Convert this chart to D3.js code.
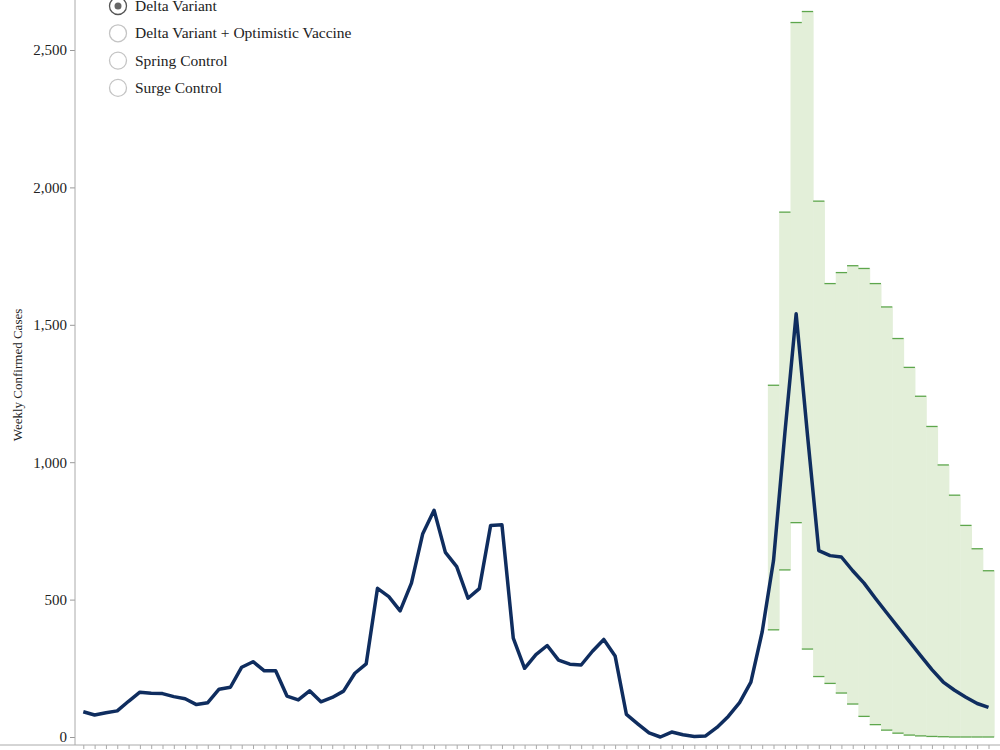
<!DOCTYPE html>
<html><head><meta charset="utf-8">
<script src="https://cdn.jsdelivr.net/npm/d3@7"></script>
<style>body{margin:0;background:#fff}svg{display:block}text{font-family:"Liberation Serif","DejaVu Serif",serif}</style>
</head><body><svg id="c" width="1000" height="750"></svg>
<script>
const weeklyCases = [92,80,88,95,130,163,159,158,147,139,118,125,174,181,254,274,241,241,149,135,168,128,144,167,232,266,541,511,459,560,740,825,672,620,505,540,770,772,360,250,300,333,280,265,262,312,355,295,82,48,15,0,18,8,2,4,35,75,125,200,383,642,1104,1540,1100,678,660,655,605,560,505,452,400,348,296,245,200,170,145,122,108];
const bandStart = 61;
const bandUpper = [1280,1910,2600,2640,1950,1650,1690,1715,1705,1650,1565,1450,1345,1240,1130,990,880,770,685,605];
const bandLower = [390,608,780,320,220,195,160,120,75,45,25,14,7,4,2,1,0,0,0,0];
const yTicks = [0,500,1000,1500,2000,2500];
const legendItems = ["Delta Variant","Delta Variant + Optimistic Vaccine","Spring Control","Surge Control"];

const svg = d3.select("#c");
const x = d3.scaleLinear().domain([0, weeklyCases.length-1]).range([83.3, 988.5]);
const y = d3.scaleLinear().domain([0,2500]).range([737,50]);
const step = x(1)-x(0);

const band = bandUpper.map((u,i)=>({i:bandStart+i,u,l:bandLower[i]}));
svg.append("g").selectAll("rect").data(band).join("rect")
  .attr("x",d=>x(d.i)-step/2).attr("width",step+0.5)
  .attr("y",d=>y(d.u)).attr("height",d=>y(d.l)-y(d.u))
  .attr("fill","#e3efd9");
const tk = svg.append("g").attr("stroke","#5da64c").attr("stroke-width",1.3);
tk.selectAll(".u").data(band).join("line").attr("x1",d=>x(d.i)-step/2).attr("x2",d=>x(d.i)+step/2).attr("y1",d=>y(d.u)).attr("y2",d=>y(d.u));
tk.selectAll(".l").data(band).join("line").attr("x1",d=>x(d.i)-step/2).attr("x2",d=>x(d.i)+step/2).attr("y1",d=>y(d.l)).attr("y2",d=>y(d.l));

const ya = svg.append("g").attr("transform","translate(75,0)")
  .call(d3.axisLeft(y).tickValues(yTicks).tickFormat(d3.format(",")).tickSize(5).tickSizeOuter(0));
ya.select(".domain").remove();
ya.selectAll("line").attr("stroke","#999");
ya.selectAll("text").attr("font-size",15).attr("fill","#222").attr("font-family","Liberation Serif");
svg.append("line").attr("x1",75).attr("x2",75).attr("y1",0).attr("y2",745).attr("stroke","#aaa");
const xa = svg.append("g").attr("transform","translate(0,745)")
  .call(d3.axisBottom(x).tickValues(d3.range(weeklyCases.length)).tickFormat("").tickSize(4).tickSizeOuter(0));
xa.select(".domain").remove();
xa.selectAll("line").attr("stroke","#aaa");
svg.append("line").attr("x1",0).attr("x2",1000).attr("y1",745).attr("y2",745).attr("stroke","#aaa");

svg.append("text").attr("transform","translate(22,375) rotate(-90)").attr("text-anchor","middle")
  .attr("font-size",13).attr("fill","#222").text("Weekly Confirmed Cases");

svg.append("path").datum(weeklyCases)
  .attr("d",d3.line().x((d,i)=>x(i)).y(d=>y(d)))
  .attr("fill","none").attr("stroke","#0f2d5f").attr("stroke-width",3.5).attr("stroke-linejoin","round");

const lg = svg.append("g").selectAll("g").data(legendItems).join("g")
  .attr("transform",(d,i)=>`translate(118,${6+i*27.3})`);
lg.append("circle").attr("r",8.5).attr("fill","#fff")
  .attr("stroke",(d,i)=>i===0?"#555":"#c4c4c4").attr("stroke-width",1.3);
lg.filter((d,i)=>i===0).append("circle").attr("r",3.5).attr("fill","#666");
lg.append("text").attr("x",17).attr("y",5).attr("font-size",15.5).attr("fill","#222").text(d=>d);
</script></body></html>
